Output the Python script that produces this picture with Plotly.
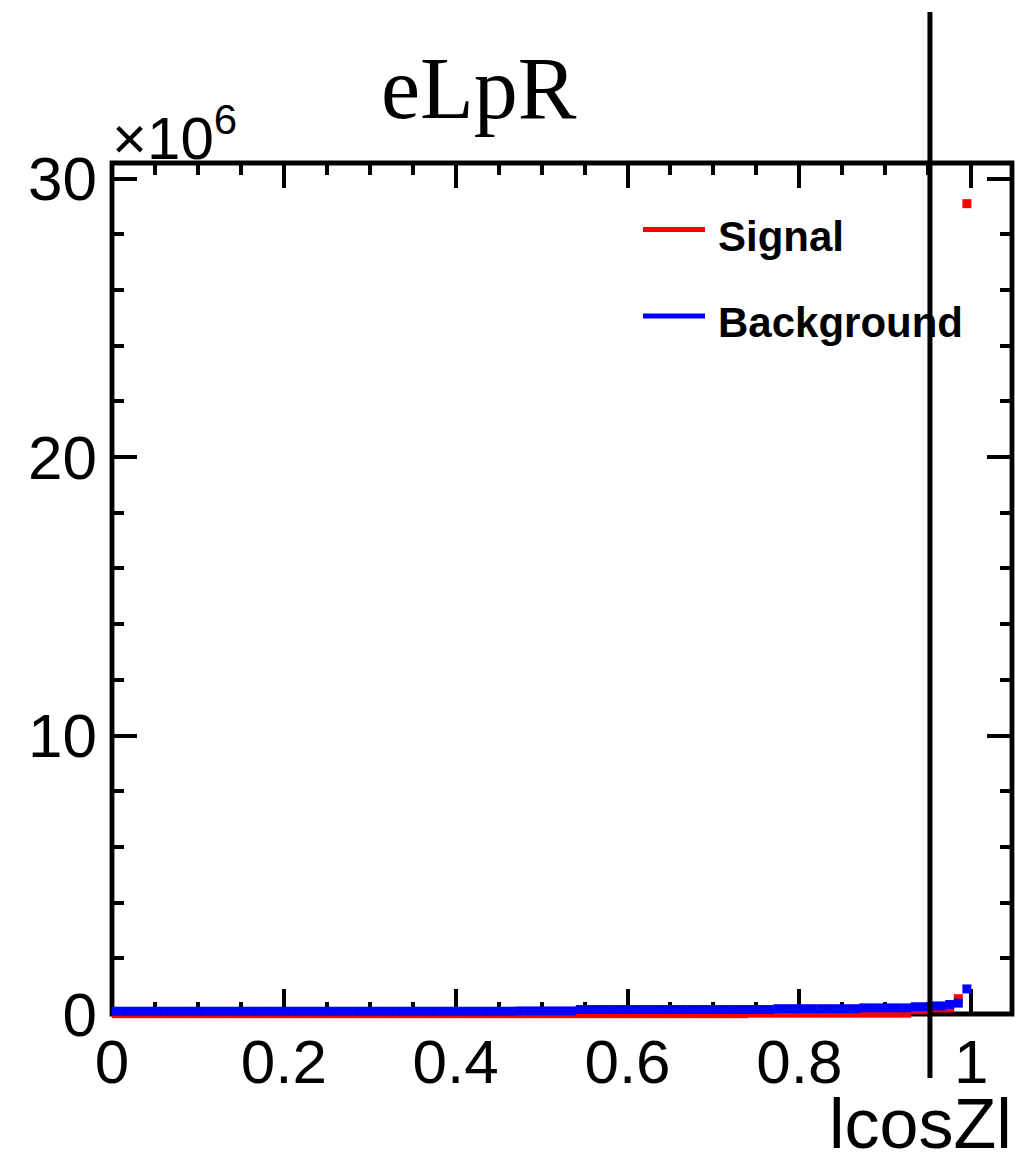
import numpy as np
import plotly.graph_objects as go

# ---------------- data ----------------
bin_low, bin_high, n_bins = 0.0, 1.0, 100
x_tick_vals = [0, 0.2, 0.4, 0.6, 0.8, 1.0]
x_tick_text = ["0", "0.2", "0.4", "0.6", "0.8", "1"]
y_tick_vals = [0, 10e6, 20e6, 30e6]
y_tick_text = ["0", "10", "20", "30"]
cut_value = 0.952

signal = [
    10000, 10000, 10000, 10000, 10000, 10000, 10000, 10000, 10000, 10000,
    10000, 10000, 10000, 10000, 10000, 10000, 10000, 10000, 10000, 10000,
    10000, 10000, 10000, 10000, 10000, 10000, 10000, 10000, 10000, 10000,
    10000, 10000, 10000, 10000, 10000, 10000, 10000, 10000, 10000, 10000,
    10000, 10000, 10000, 10000, 10000, 10000, 10000, 10000, 10000, 10000,
    10000, 10000, 10000, 10000, 10000, 10000, 10000, 10000, 10000, 10000,
    10000, 10000, 10000, 10000, 10000, 10000, 10000, 10000, 10000, 10000,
    10000, 10000, 10000, 10000, 30000, 30000, 30000, 30000, 30000, 30000,
    30000, 30000, 30000, 30000, 30000, 30000, 30000, 30000, 30000, 30000,
    30000, 30000, 30000, 150000, 150000, 220000, 220000, 220000, 550000, 29100000,
]
background = [
    100000, 100000, 100000, 100000, 100000, 100000, 100000, 100000, 100000, 100000,
    100000, 100000, 100000, 100000, 100000, 100000, 100000, 100000, 100000, 100000,
    100000, 100000, 100000, 100000, 100000, 100000, 100000, 100000, 100000, 100000,
    100000, 100000, 100000, 100000, 100000, 100000, 100000, 100000, 100000, 100000,
    100000, 100000, 100000, 100000, 100000, 100000, 100000, 110000, 110000, 110000,
    110000, 110000, 110000, 110000, 160000, 160000, 160000, 160000, 160000, 160000,
    160000, 160000, 160000, 160000, 160000, 160000, 160000, 160000, 160000, 160000,
    160000, 160000, 160000, 160000, 160000, 160000, 160000, 190000, 190000, 190000,
    190000, 190000, 190000, 190000, 190000, 190000, 190000, 220000, 220000, 220000,
    220000, 220000, 220000, 260000, 260000, 290000, 290000, 340000, 390000, 900000,
]

edges = np.linspace(bin_low, bin_high, n_bins + 1)
centers = 0.5 * (edges[:-1] + edges[1:])

# ---------------- geometry ----------------
W, H = 1015, 1164
ML, MR, MT, MB = 112, 3, 163, 150
PW, PH = W - ML - MR, H - MT - MB
x_range = [0, 1.0475]
y_range = [0, 30.56e6]
bin_px = (edges[1] - edges[0]) / (x_range[1] - x_range[0]) * PW


def px(xp):
    return (xp - ML) / PW


def py(yp):
    return (H - MB - yp) / PH


FONT = "Liberation Sans, Arial, Helvetica, sans-serif"

fig = go.Figure()
fig.add_trace(go.Scatter(
    x=centers, y=signal, mode="markers", name="Signal",
    marker=dict(symbol="square", size=bin_px + 0.4, color="#ff0000", line=dict(width=0)),
    cliponaxis=False, showlegend=False,
))
fig.add_trace(go.Scatter(
    x=centers, y=background, mode="markers", name="Background",
    marker=dict(symbol="square", size=bin_px + 0.4, color="#0000ff", line=dict(width=0)),
    cliponaxis=False, showlegend=False,
))

axis_common = dict(
    showgrid=False, zeroline=False, showline=False,
    ticks="inside", ticklen=25, tickwidth=3.5, tickcolor="black",
    mirror="ticks", layer="below traces",
    tickfont=dict(family=FONT, size=62, color="black"),
)
fig.update_xaxes(
    range=x_range, tickmode="array", tickvals=x_tick_vals, ticktext=x_tick_text,
    minor=dict(dtick=0.05, tick0=0, ticks="inside", ticklen=12, tickwidth=3.5,
               tickcolor="black", showgrid=False),
    ticklabelstandoff=6,
    **axis_common,
)
fig.update_yaxes(
    range=y_range, tickmode="array", tickvals=y_tick_vals, ticktext=y_tick_text,
    minor=dict(dtick=2e6, tick0=0, ticks="inside", ticklen=12, tickwidth=3.5,
               tickcolor="black", showgrid=False),
    ticklabelstandoff=14,
    **axis_common,
)

shapes = [
    dict(type="rect", xref="paper", yref="paper", x0=0, x1=1, y0=0, y1=1,
         line=dict(color="black", width=4.8), layer="below"),
    dict(type="line", xref="x", yref="paper", x0=cut_value, x1=cut_value,
         y0=py(12), y1=py(1078), line=dict(color="black", width=5), layer="above"),
    dict(type="line", xref="paper", yref="paper", x0=px(643), x1=px(705),
         y0=py(229.5), y1=py(229.5), line=dict(color="#ff0000", width=5)),
    dict(type="line", xref="paper", yref="paper", x0=px(643), x1=px(705),
         y0=py(316), y1=py(316), line=dict(color="#0000ff", width=5)),
]

annotations = [
    dict(text="eLpR", xref="paper", yref="paper", x=px(478.5), y=py(88),
         xanchor="center", yanchor="middle", showarrow=False,
         font=dict(family="Liberation Serif, Times New Roman, serif", size=88, color="black")),
    dict(text="×10<sup>6</sup>", xref="paper", yref="paper", x=px(110), y=py(134),
         xanchor="left", yanchor="middle", showarrow=False,
         font=dict(family=FONT, size=60, color="black")),
    dict(text="lcosZl", xref="paper", yref="paper", x=px(1013), y=py(1163.5),
         xanchor="right", yanchor="bottom", showarrow=False, borderpad=0,
         font=dict(family=FONT, size=70, color="black")),
    dict(text="<b>Signal</b>", xref="paper", yref="paper", x=px(716), y=py(236),
         xanchor="left", yanchor="middle", showarrow=False,
         font=dict(family=FONT, size=42, color="black")),
    dict(text="<b>Background</b>", xref="paper", yref="paper", x=px(716), y=py(322),
         xanchor="left", yanchor="middle", showarrow=False,
         font=dict(family=FONT, size=42, color="black")),
]

fig.update_layout(
    width=W, height=H,
    margin=dict(l=ML, r=MR, t=MT, b=MB, pad=0),
    paper_bgcolor="white", plot_bgcolor="white",
    shapes=shapes, annotations=annotations, showlegend=False,
)

fig.write_html("out.html")
